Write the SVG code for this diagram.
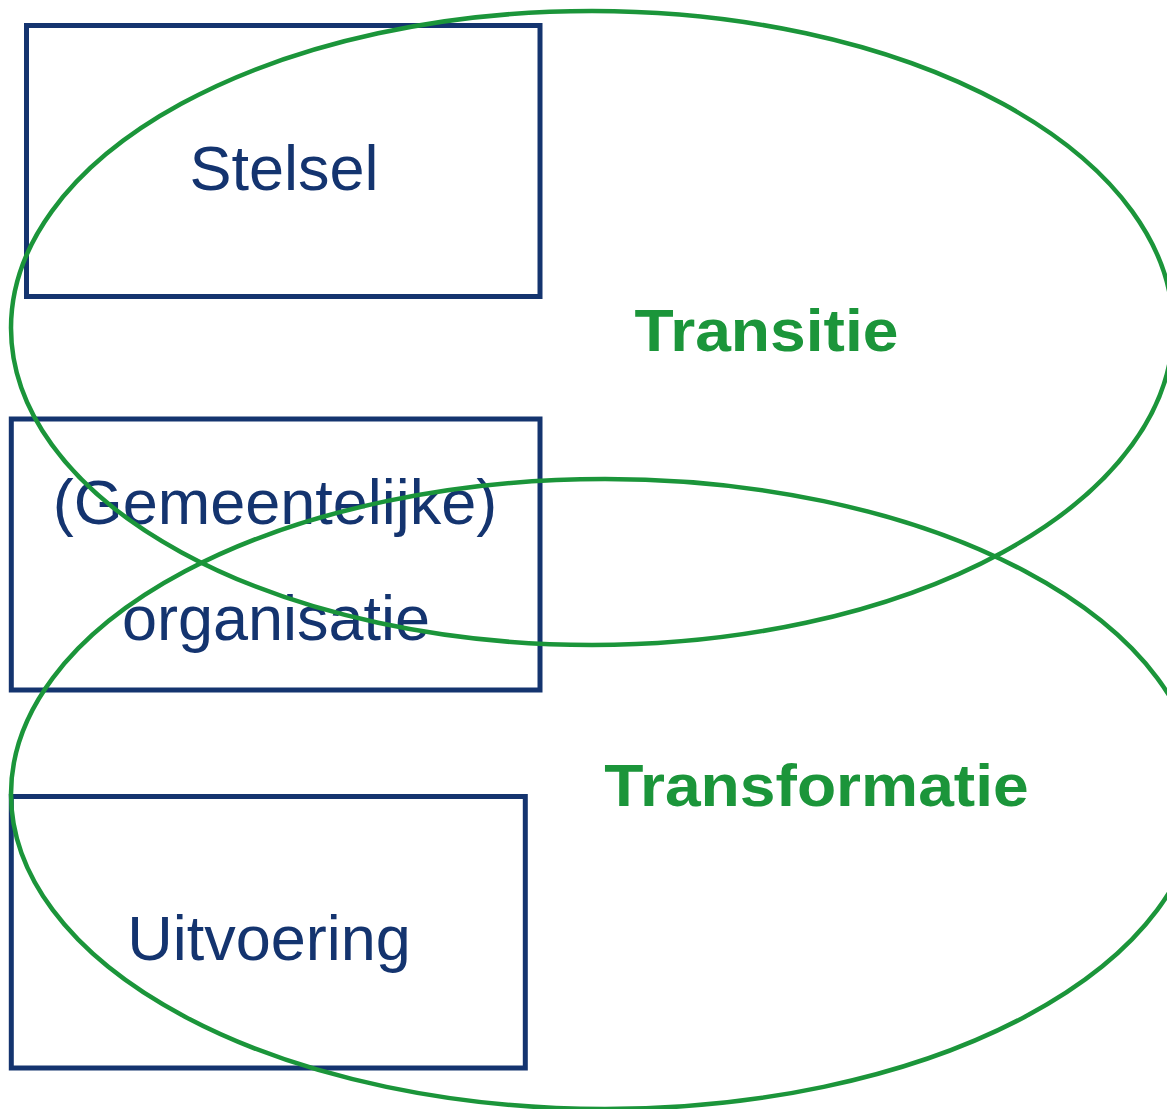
<svg xmlns="http://www.w3.org/2000/svg" width="1167" height="1109" viewBox="0 0 1167 1109">
<style>
.box{fill:none;stroke:#14346f;stroke-width:5}
.ring{fill:none;stroke:#1b953a;stroke-width:4.5}
.lbl{font-family:"Liberation Sans",Arial,sans-serif;font-size:63px;fill:#14346f;text-anchor:middle}
.big{font-family:"Liberation Sans",Arial,sans-serif;font-size:60px;font-weight:bold;fill:#1b953a;text-anchor:middle}
</style>
<rect width="1167" height="1109" fill="#ffffff"/>
<g id="stelsel">
<rect class="box" x="26.5" y="25.5" width="513.5" height="271"/>
<text class="lbl" x="284" y="190">Stelsel</text>
</g>
<g id="organisatie">
<rect class="box" x="11.3" y="419" width="528.7" height="271"/>
<text class="lbl" x="275" y="524">(Gemeentelijke)</text>
<text class="lbl" x="276" y="640">organisatie</text>
</g>
<g id="uitvoering">
<rect class="box" x="11.3" y="796.5" width="514" height="271.5"/>
<text class="lbl" x="269" y="960">Uitvoering</text>
</g>
<g id="transitie">
<ellipse class="ring" cx="592" cy="328" rx="581" ry="317"/>
<text class="big" transform="translate(766.5,351) scale(1.07,1)" x="0" y="0">Transitie</text>
</g>
<g id="transformatie">
<ellipse class="ring" cx="605" cy="794" rx="594" ry="315"/>
<text class="big" transform="translate(816.5,806) scale(1.07,1)" x="0" y="0">Transformatie</text>
</g>
<g id="connectors"/>
</svg>
